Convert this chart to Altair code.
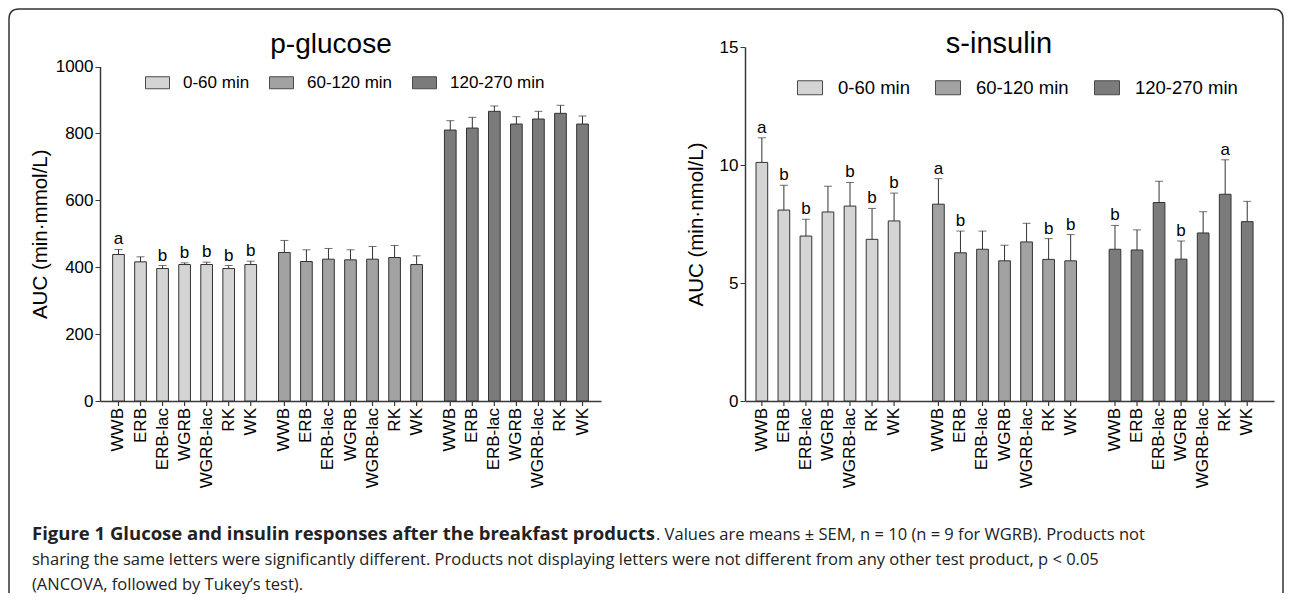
import altair as alt
import pandas as pd

# ---------------- data ----------------
products = ["WWB", "ERB", "ERB-lac", "WGRB", "WGRB-lac", "RK", "WK"]
periods = ["0-60 min", "60-120 min", "120-270 min"]
bar_colors = ["#d4d4d4", "#a2a2a2", "#7b7b7b"]

# p-glucose AUC (min·mmol/L): means and SEM
glu_0_60 = [438, 416, 396, 408, 408, 396, 408]
glu_0_60_sem = [15, 15, 9, 5, 7, 9, 10]
glu_60_120 = [444, 417, 424, 422, 424, 429, 408]
glu_60_120_sem = [36, 35, 32, 30, 38, 36, 26]
glu_120_270 = [810, 816, 866, 828, 843, 860, 828]
glu_120_270_sem = [28, 32, 16, 22, 23, 24, 24]
glu_letters_0_60 = ["a", "", "b", "b", "b", "b", "b"]
glu_letters_60_120 = ["", "", "", "", "", "", ""]
glu_letters_120_270 = ["", "", "", "", "", "", ""]
glu_ticks = [0, 200, 400, 600, 800, 1000]

# s-insulin AUC (min·nmol/L): means and SEM
ins_0_60 = [10.11, 8.09, 6.99, 8.01, 8.26, 6.85, 7.63]
ins_0_60_sem = [1.04, 1.05, 0.71, 1.09, 1.00, 1.31, 1.18]
ins_60_120 = [8.34, 6.28, 6.43, 5.94, 6.74, 6.00, 5.94]
ins_60_120_sem = [1.08, 0.92, 0.77, 0.66, 0.79, 0.88, 1.11]
ins_120_270 = [6.43, 6.40, 8.41, 6.01, 7.12, 8.76, 7.60]
ins_120_270_sem = [1.01, 0.85, 0.90, 0.77, 0.90, 1.46, 0.86]
ins_letters_0_60 = ["a", "b", "b", "", "b", "b", "b"]
ins_letters_60_120 = ["a", "b", "", "", "", "b", "b"]
ins_letters_120_270 = ["b", "", "", "b", "", "a", ""]
ins_ticks = [0, 5, 10, 15]

caption_bold = "Figure 1 Glucose and insulin responses after the breakfast products"
caption_l1 = ". Values are means \u00b1 SEM, n = 10 (n = 9 for WGRB). Products not"
caption_l2 = ("sharing the same letters were significantly different. Products not displaying "
              "letters were not different from any other test product, p < 0.05")
caption_l3 = "(ANCOVA, followed by Tukey\u2019s test)."


def table(means, sems, letters):
    rows = []
    for period, m, s, lt in zip(periods, means, sems, letters):
        for p, mv, sv, lv in zip(products, m, s, lt):
            rows.append({"period": period, "product": p, "mean": mv, "sem": sv, "letter": lv})
    return pd.DataFrame(rows)


glu_df = table([glu_0_60, glu_60_120, glu_120_270],
               [glu_0_60_sem, glu_60_120_sem, glu_120_270_sem],
               [glu_letters_0_60, glu_letters_60_120, glu_letters_120_270])
ins_df = table([ins_0_60, ins_60_120, ins_120_270],
               [ins_0_60_sem, ins_60_120_sem, ins_120_270_sem],
               [ins_letters_0_60, ins_letters_60_120, ins_letters_120_270])

# ---------------- styling ----------------
FONT = "Liberation Sans"
CAP_FONT = "Open Sans"
AXIS_COLOR = "#3a3a3a"
H = 354


def rect_path(w, h):
    r = h / w
    return f"M-1,{-r:.3f}H1V{r:.3f}H-1Z"


def panel(df, width, ymax, ticks, y_top, pad_outer, title, title_x, title_size,
          ytitle, ytitle_x, leg_x, leg_y, sym_w, sym_h, leg_fs, leg_off, leg_pad):
    yscale = alt.Scale(domain=[0, ymax], range=[H, y_top], nice=False, zero=True)
    base = alt.Chart(df).transform_calculate(upper="datum.mean + datum.sem").encode(
        x=alt.X("period:N", sort=periods, title=None,
                scale=alt.Scale(paddingInner=0.07, paddingOuter=pad_outer),
                axis=alt.Axis(labels=False, ticks=False, domainColor=AXIS_COLOR, domainWidth=1.5)),
        xOffset=alt.XOffset("product:N", sort=products,
                            scale=alt.Scale(paddingInner=0.47, paddingOuter=0.235)),
    )
    bars = base.mark_bar(stroke="#333333", strokeWidth=1).encode(
        y=alt.Y("mean:Q", scale=yscale, title=ytitle,
                axis=alt.Axis(values=ticks, format="d", grid=False, tickSize=5, tickColor=AXIS_COLOR,
                              domainColor=AXIS_COLOR, domainWidth=1.5, labelFont=FONT,
                              labelFontSize=17, labelColor="black", labelPadding=2,
                              titleFont=FONT, titleFontSize=20.5, titleFontWeight="normal",
                              titleColor="black", titleAngle=270, titleAlign="center",
                              titleBaseline="middle", titleX=ytitle_x, titleY=(H + y_top) / 2)),
        color=alt.Color("period:N", sort=periods,
                        scale=alt.Scale(domain=periods, range=bar_colors),
                        legend=alt.Legend(orient="none", legendX=leg_x, legendY=leg_y,
                                          direction="horizontal", title=None,
                                          symbolType=rect_path(sym_w, sym_h),
                                          symbolSize=sym_w * sym_w, symbolStrokeColor="#4a4a4a",
                                          symbolStrokeWidth=1, symbolOpacity=1,
                                          labelFont=FONT, labelFontSize=leg_fs, labelColor="black",
                                          labelOffset=leg_off, columnPadding=leg_pad, padding=0)),
    )
    errs = base.mark_rule(color="#333333", strokeWidth=1).encode(
        y=alt.Y("mean:Q", scale=yscale, title=ytitle), y2="upper:Q")
    caps = base.mark_tick(color="#333333", thickness=1, size=8).encode(
        y=alt.Y("upper:Q", scale=yscale, title=ytitle))
    letters = base.mark_text(font=FONT, fontSize=17, baseline="alphabetic", dy=-5,
                             color="black").encode(
        y=alt.Y("upper:Q", scale=yscale, title=ytitle), text="letter:N")
    labels = base.mark_text(font=FONT, fontSize=17, angle=270, align="right",
                            baseline="middle", color="black").encode(
        y=alt.value(H + 7), text="product:N")
    xticks = base.mark_rule(color=AXIS_COLOR, strokeWidth=1.2).encode(
        y=alt.value(H), y2=alt.value(H + 5))
    ttl = alt.Chart(pd.DataFrame({"t": [title]})).mark_text(
        font=FONT, fontSize=title_size, align="center", baseline="alphabetic",
        color="black").encode(text="t:N", x=alt.value(title_x), y=alt.value(6))
    return [bars, errs, caps, letters, labels, xticks, ttl]


left_layers = panel(glu_df, 501, 1000, glu_ticks, 19.5, 0.045, "p-glucose", 231, 28,
                    "AUC (min\u00b7mmol/L)", -60, 45, 23, 24, 12, 17, 13, 17)
right_layers = panel(ins_df, 529, 15, ins_ticks, 0, 0.033, "s-insulin", 254, 29,
                     "AUC (min\u00b7nmol/L)", -49, 52, 27.5, 25, 14, 18.5, 15, 23)

# outer rounded frame and caption, drawn relative to the left plot area
FRAME_PATH = "M-91,546V-28Q-91,-38,-81,-38H1173Q1183,-38,1183,-28V546"
one = pd.DataFrame({"k": [0]})
frame = alt.Chart(one).mark_point(shape=FRAME_PATH, size=4, filled=False, stroke="#333333",
                                  strokeWidth=1.5, strokeJoin="round", opacity=1).encode(
    x=alt.value(0), y=alt.value(0))


def cap_text(txt, x, y, bold=False, align="left", size=16.5):
    return alt.Chart(pd.DataFrame({"t": [txt]})).mark_text(
        font=CAP_FONT, fontSize=size, fontWeight="bold" if bold else "normal",
        align=align, baseline="alphabetic", color="#222222").encode(
        text="t:N", x=alt.value(x), y=alt.value(y))


caption = [
    cap_text(caption_bold, -68, 493, bold=True, size=18.5),
    cap_text(caption_l1, 556, 493),
    cap_text(caption_l2, -68, 518),
    cap_text(caption_l3, -68, 543),
]

left = alt.layer(*left_layers, frame, *caption).properties(width=501, height=H)
right = alt.layer(*right_layers).properties(width=529, height=H)

chart = alt.hconcat(left, right, spacing=144, bounds="flush").resolve_scale(
    color="independent").resolve_legend(color="independent").properties(
    padding={"left": 0, "top": 0, "right": 0, "bottom": 0}
).configure_view(strokeWidth=0)

chart.save("out.html", embed_options={"renderer": "svg", "actions": False})
